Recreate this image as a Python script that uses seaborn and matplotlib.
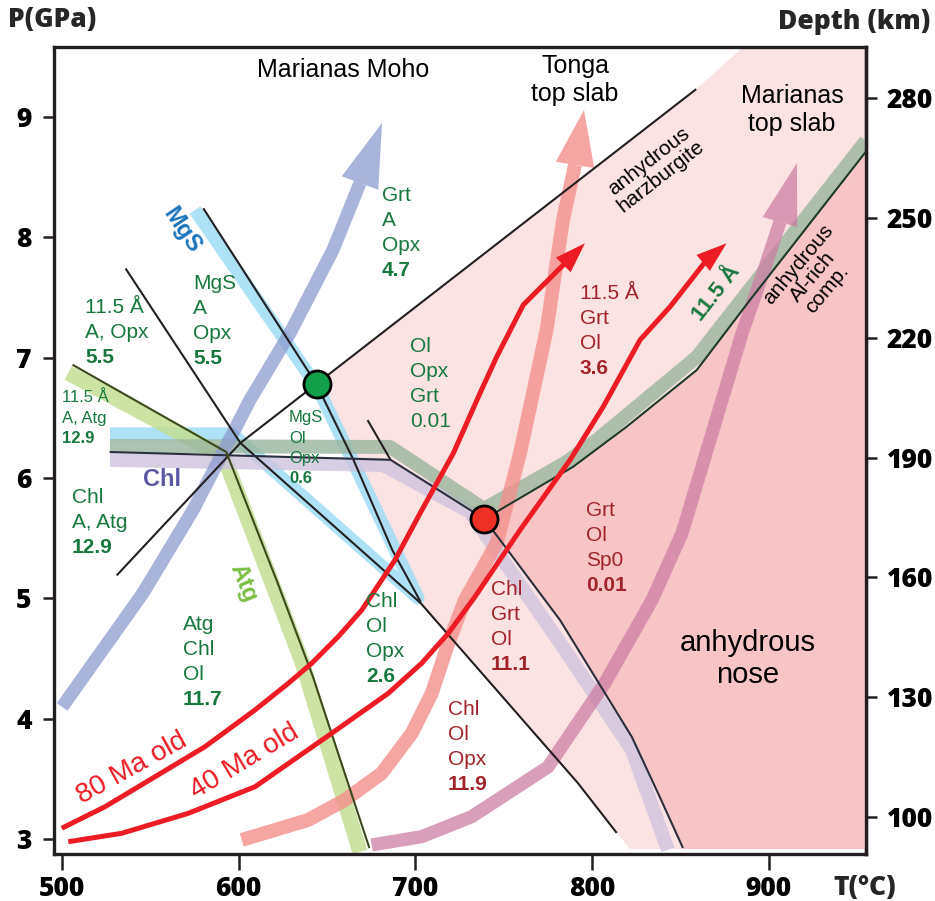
import matplotlib
matplotlib.use("Agg")
from matplotlib import pyplot as plt
from matplotlib.patches import FancyArrowPatch
import numpy as np
import seaborn as sns

# axis window (T in C, P in GPa)
T_MIN, T_MAX = 495.5, 955.1
P_MIN, P_MAX = 2.875, 9.58
P_FLOOR = 2.917  # pink fill stops a bit above the frame

# thin phase boundaries
harz_T = [531, 601, 644, 859]
harz_P = [5.19, 6.29, 6.78, 9.23]
opx_T = [536, 601, 703, 792, 814]
opx_P = [7.74, 6.29, 4.96, 3.465, 3.05]
mgs_line_T = [580, 644, 665, 687, 703]
mgs_line_P = [8.24, 6.78, 6.15, 5.40, 4.97]
stub_T = [673, 686]
stub_P = [6.48, 6.15]
chl_line_T = [527, 686, 739, 781.9, 822.6, 837.4, 851.5]
chl_line_P = [6.215, 6.15, 5.66, 4.819, 3.847, 3.38, 2.925]
a115_line_T = [739, 746.1, 789.4, 819.6, 859.3, 889.4, 955]
a115_line_P = [5.66, 5.719, 6.093, 6.425, 6.896, 7.477, 8.71]
atg_line_T = [506, 593, 622, 642, 674]
atg_line_P = [6.94, 6.215, 5.13, 4.35, 2.925]

# broad reaction bands
atg_band_T = [503.5, 591.7, 617.8, 635.9, 668.7]
atg_band_P = [6.872, 6.174, 5.168, 4.47, 2.892]
mgs_band_T = [527.2, 596.3, 691.3, 701.5, 644.9, 575.3]
mgs_band_P = [6.365, 6.365, 5.135, 5.002, 6.747, 8.226]
chl_band_T = [527.2, 681.7, 730.9, 784.7, 822.6, 843]
chl_band_P = [6.149, 6.107, 5.717, 4.57, 3.739, 2.909]
a115_band_T = [527.2, 685.7, 738.9, 784.7, 802.8, 859.4, 955]
a115_band_P = [6.265, 6.257, 5.742, 6.124, 6.315, 7.005, 8.80]

# P-T paths (last point = arrow tip)
moho_T = [500.1, 545.9, 574.2, 606.4, 629.1, 653.4, 668.7, 681.2]
moho_P = [4.097, 5.044, 5.733, 6.647, 7.204, 7.894, 8.45, 8.949]
tonga_T = [601.8, 639.4, 660.2, 681.0, 698.0, 709.3, 718.7, 728.1, 746.1, 759.3, 774.3, 783.6, 790.4, 795.5]
tonga_P = [2.992, 3.158, 3.324, 3.546, 3.878, 4.210, 4.626, 4.986, 5.459, 6.207, 7.228, 8.142, 8.60, 9.057]
mari_T = [675.3, 703.6, 731.9, 775.1, 807.3, 834.0, 851.0, 885.0, 898.0, 906.4, 916.0]
mari_P = [2.95, 3.019, 3.185, 3.598, 4.296, 4.986, 5.542, 7.204, 7.752, 8.126, 8.616]
ma80_T = [499.9, 524.4, 552.7, 581.0, 609.3, 628.1, 641.4, 656.4, 669.7, 681.0, 688.5, 702.7,
          721.5, 736.6, 746.1, 761.1, 796.0]
ma80_P = [3.089, 3.268, 3.517, 3.767, 4.072, 4.293, 4.460, 4.681, 4.902, 5.152, 5.318, 5.706,
          6.204, 6.703, 7.007, 7.437, 7.949]
ma40_T = [503.6, 533.8, 571.5, 609.3, 652.7, 684.7, 703.6, 718.7, 733.8, 759.3, 787.6, 806.4,
          827.2, 844.2, 864.9, 876.2]
ma40_P = [2.977, 3.047, 3.213, 3.434, 3.878, 4.210, 4.460, 4.709, 5.013, 5.567, 6.149, 6.592,
          7.146, 7.422, 7.810, 7.949]

# invariant points
green_pt = (644.4, 6.78)
red_pt = (738.9, 5.66)

# pink fields
light_T = [644, 859, 885.5, T_MAX, T_MAX, 821.5, 814, 792, 703, 687, 665]
light_P = [6.78, 9.23, P_MAX, P_MAX, P_FLOOR, P_FLOOR, 3.05, 3.465, 4.96, 5.40, 6.15]
dark_T = [739, 746.1, 789.4, 819.6, 859.3, 889.4, 955, T_MAX, T_MAX, 851.5, 837.4, 822.6, 781.9]
dark_P = [5.66, 5.719, 6.093, 6.425, 6.896, 7.477, 8.71, 8.71, P_FLOOR, P_FLOOR, 3.38, 3.847, 4.819]

# assemblage labels: (T, P of first line, lines, last line bold)
green_labels = [
    (681.2, 8.35, ["Grt", "A", "Opx", "4.7"], True),
    (574.2, 7.619, ["MgS", "A", "Opx", "5.5"], True),
    (513.1, 7.412, ["11.5 Å", "A, Opx", "5.5"], True),
    (697.0, 7.088, ["Ol", "Opx", "Grt", "0.01"], False),
    (505.7, 5.841, ["Chl", "A, Atg", "12.9"], True),
    (568.5, 4.778, ["Atg", "Chl", "Ol", "11.7"], True),
    (672.1, 4.969, ["Chl", "Ol", "Opx", "2.6"], True),
]
small_labels = [
    (500.1, 6.664, ["11.5 Å", "A, Atg", "12.9"]),
    (628.5, 6.498, ["MgS", "Ol", "Opx", "0.6"]),
]
red_labels = [
    (742.8, 5.069, ["Chl", "Grt", "Ol", "11.1"]),
    (718.5, 4.072, ["Chl", "Ol", "Opx", "11.9"]),
    (796.6, 5.733, ["Grt", "Ol", "Sp0", "0.01"]),
    (793.2, 7.536, ["11.5 Å", "Grt", "Ol", "3.6"]),
]

depth_ticks = [100, 130, 160, 190, 220, 250, 280]


def p2d(p):
    return 190 + 30.13 * (np.asarray(p) - 6.168)


def d2p(d):
    return 6.168 + (np.asarray(d) - 190) / 30.13


GREEN = "#17783e"
DKRED = "#a3232a"
RED = "#ed1c24"
INK = "#231f20"
AXFONT = dict(family="Open Sans", fontweight=800, fontsize=19)

sns.set_theme(style="ticks")
plt.rcParams["font.family"] = ["Liberation Sans", "DejaVu Sans"]

fig = plt.figure(figsize=(9.35, 9.01), dpi=100)
ax = fig.add_axes([54 / 935, 1 - 854 / 901, 812 / 935, 807 / 901])
ax.set_xlim(T_MIN, T_MAX)
ax.set_ylim(P_MIN, P_MAX)


def line(T, P, color, lw, alpha=1.0, z=3, join="round"):
    sns.lineplot(x=T, y=P, sort=False, estimator=None, color=color, lw=lw, alpha=alpha,
                 zorder=z, ax=ax, solid_capstyle="butt", solid_joinstyle=join)


def head_pts(T, P):
    a = ax.transData.transform((T[-2], P[-2]))
    b = ax.transData.transform((T[-1], P[-1]))
    return np.hypot(*(b - a)) * 72 / fig.dpi


def thick_arrow(T, P, color, lw, half_w, alpha, z):
    line(T[:-1], P[:-1], color, lw, alpha, z)
    hl = head_pts(T, P)
    ax.add_patch(FancyArrowPatch((T[-2], P[-2]), (T[-1], P[-1]),
                                 arrowstyle=f"-|>,head_length={hl:.1f},head_width={half_w}",
                                 mutation_scale=1, lw=0, color=color, alpha=alpha,
                                 shrinkA=0, shrinkB=0, zorder=z))


def red_arrow(T, P, frac):
    tx = T[:-1] + [T[-2] + frac * (T[-1] - T[-2])]
    py = P[:-1] + [P[-2] + frac * (P[-1] - P[-2])]
    line(tx, py, RED, 3.6, 1.0, 7)
    ax.add_patch(FancyArrowPatch((T[-2], P[-2]), (T[-1], P[-1]),
                                 arrowstyle="-|>,head_length=22,head_width=7.5",
                                 mutation_scale=1, lw=0, color=RED,
                                 shrinkA=0, shrinkB=0, zorder=7))


# fields
ax.fill(light_T, light_P, color="#fce3e3", lw=0, zorder=0)
ax.fill(dark_T, dark_P, color="#f8c5c7", lw=0, zorder=0.5)

# bands
line(mgs_band_T, mgs_band_P, "#9fdcf5", 9.5, 0.85, 1)
line(atg_band_T, atg_band_P, "#c3de94", 11, 0.85, 1.2)
line(a115_band_T, a115_band_P, "#99b59e", 10, 0.8, 1.4)
line(chl_band_T, chl_band_P, "#cfc3df", 10, 0.8, 1.3)
thick_arrow(moho_T, moho_P, "#8c9bcf", 9.5, 14, 0.75, 2)
thick_arrow(tonga_T, tonga_P, "#f3908c", 10, 14, 0.8, 2)
thick_arrow(mari_T, mari_P, "#cc7ea3", 9.5, 13, 0.75, 2)

# thin boundaries
for T, P, c in [(harz_T, harz_P, INK), (opx_T, opx_P, INK), (mgs_line_T, mgs_line_P, INK),
                (stub_T, stub_P, INK), (chl_line_T, chl_line_P, "#2a2f3d"),
                (a115_line_T, a115_line_P, "#1c3a29"), (atg_line_T, atg_line_P, "#3c4a1b")]:
    line(T, P, c, 1.5, 1.0, 4, "miter")

# thermal paths
red_arrow(ma80_T, ma80_P, 0.7)
red_arrow(ma40_T, ma40_P, 0.5)

ax.scatter(*green_pt, s=380, color="#12a04a", edgecolor="black", linewidth=2, zorder=8)
ax.scatter(*red_pt, s=380, color="#ee3124", edgecolor="black", linewidth=2, zorder=8)

# labels
for T, P, rows, bold_last in green_labels:
    for i, s in enumerate(rows):
        w = "bold" if bold_last and i == len(rows) - 1 else "normal"
        ax.annotate(s, (T, P), xytext=(0, -18 * i), textcoords="offset points", ha="left",
                    va="center", fontsize=15, color=GREEN, fontweight=w, zorder=9)
for T, P, rows in small_labels:
    for i, s in enumerate(rows):
        w = "bold" if i == len(rows) - 1 else "normal"
        ax.annotate(s, (T, P), xytext=(0, -14.5 * i), textcoords="offset points", ha="left",
                    va="center", fontsize=12, color=GREEN, fontweight=w, zorder=9)
for T, P, rows in red_labels:
    for i, s in enumerate(rows):
        w = "bold" if i == len(rows) - 1 else "normal"
        ax.annotate(s, (T, P), xytext=(0, -18 * i), textcoords="offset points", ha="left",
                    va="center", fontsize=15, color=DKRED, fontweight=w, zorder=9)

kw = dict(ha="center", va="center", rotation_mode="anchor", zorder=9)
ax.text(659.1, 9.389, "Marianas Moho", fontsize=18, color="black", **kw)
ax.text(790.4, 9.306, "Tonga\ntop slab", fontsize=18, color="black", linespacing=1.2, **kw)
ax.text(913.2, 9.057, "Marianas\ntop slab", fontsize=18, color="black", linespacing=1.2, **kw)
ax.text(888.3, 4.495, "anhydrous\nnose", fontsize=21, color="black", linespacing=1.2, **kw)
ax.text(835.7, 8.566, "anhydrous\nharzburgite", fontsize=15, rotation=38, linespacing=1.0,
        color="black", **kw)
ax.text(925.1, 7.669, "anhydrous\nAl-rich\ncomp.", fontsize=15, rotation=50, linespacing=1.0,
        color="black", **kw)
ax.text(556.6, 5.983, "Chl", fontsize=17, fontweight="bold", color="#5b58a7", **kw)
ax.text(568.0, 8.06, "MgS", fontsize=17, fontweight="bold", rotation=-56, color="#1c75bc", **kw)
ax.text(602.7, 5.127, "Atg", fontsize=17, fontweight="bold", rotation=-68, color="#79bf43", **kw)
ax.text(870.7, 7.536, "11.5 Å", fontsize=16, fontweight="bold", rotation=52, color=GREEN, **kw)
ax.text(539.7, 3.59, "80 Ma old", fontsize=20, rotation=29, color=RED, **kw)
ax.text(603.6, 3.64, "40 Ma old", fontsize=20, rotation=31, color=RED, **kw)

# axes
ax.set_xlabel("")
ax.set_ylabel("")
ax.set_xticks([500, 600, 700, 800, 900])
ax.set_yticks(range(3, 10))
for s in ax.spines.values():
    s.set_linewidth(2.4)
    s.set_color(INK)
ax.tick_params(axis="x", bottom=True, length=11.5, width=1.8, pad=4, color=INK)
ax.tick_params(axis="y", left=True, length=8, width=1.8, pad=8, color=INK)

sec = ax.secondary_yaxis("right", functions=(p2d, d2p))
sec.set_yticks(depth_ticks)
sec.spines["right"].set_linewidth(2.4)
sec.spines["right"].set_color(INK)
sec.tick_params(right=True, length=8, width=1.8, pad=7, color=INK)

for lab in ax.get_xticklabels() + ax.get_yticklabels() + sec.get_yticklabels():
    lab.set_fontfamily(AXFONT["family"])
    lab.set_fontweight(AXFONT["fontweight"])
    lab.set_fontsize(AXFONT["fontsize"])
    lab.set_color("black")

fig.text(8 / 935, 1 - 20 / 901, "P(GPa)", ha="left", va="center", **AXFONT)
fig.text(930 / 935, 1 - 22 / 901, "Depth (km)", ha="right", va="center", **AXFONT)
fig.text(833 / 935, 1 - 888 / 901, "T(°C)", ha="left", va="center", **AXFONT)

fig.savefig("out.png", dpi=100)
